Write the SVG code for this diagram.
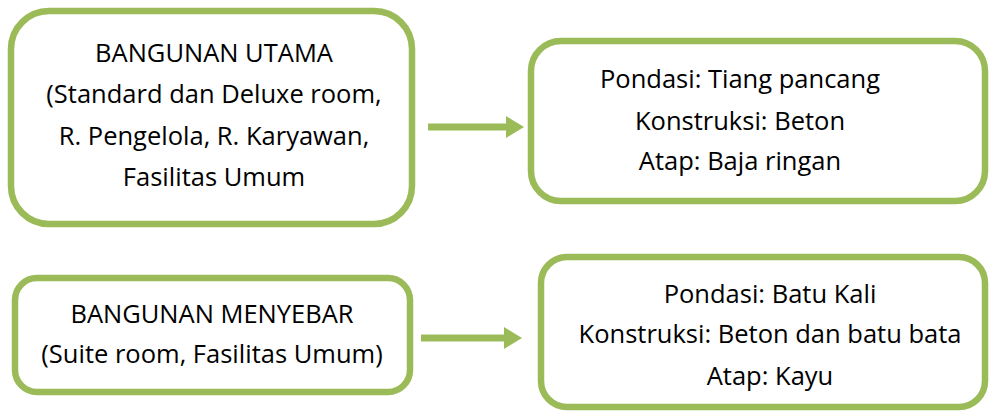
<svg xmlns="http://www.w3.org/2000/svg" width="991" height="412" viewBox="0 0 991 412">
<style>
.box{fill:#fff;stroke:#9BBB59;stroke-width:6.5}
.t{font-family:"Open Sans","Noto Sans",sans-serif;font-size:25.5px;fill:#000;text-anchor:middle}
.conn{stroke:#9BBB59;stroke-width:7;fill:none}
</style>
<defs>
<marker id="ah" markerUnits="userSpaceOnUse" markerWidth="18" markerHeight="22" refX="0" refY="11" orient="auto">
<path d="M0,0 L18,11 L0,22 z" fill="#9BBB59"/>
</marker>
</defs>
<rect width="991" height="412" fill="#fff"/>
<g id="n1">
<rect class="box" x="11" y="11" width="401" height="213" rx="38"/>
<text class="t" x="214" y="62">BANGUNAN UTAMA</text>
<text class="t" x="214" y="103">(Standard dan Deluxe room,</text>
<text class="t" x="214" y="145">R. Pengelola, R. Karyawan,</text>
<text class="t" x="214" y="186">Fasilitas Umum</text>
</g>
<g id="n2">
<rect class="box" x="531" y="41" width="454" height="160" rx="30"/>
<text class="t" x="740" y="88">Pondasi: Tiang pancang</text>
<text class="t" x="740" y="130">Konstruksi: Beton</text>
<text class="t" x="740" y="170">Atap: Baja ringan</text>
</g>
<g id="n3">
<rect class="box" x="15" y="278" width="395" height="114" rx="22"/>
<text class="t" x="212" y="323">BANGUNAN MENYEBAR</text>
<text class="t" x="212" y="363">(Suite room, Fasilitas Umum)</text>
</g>
<g id="n4">
<rect class="box" x="541" y="257" width="444" height="150" rx="26"/>
<text class="t" x="770" y="303">Pondasi: Batu Kali</text>
<text class="t" x="770" y="343">Konstruksi: Beton dan batu bata</text>
<text class="t" x="770" y="385">Atap: Kayu</text>
</g>
<g id="connectors">
<line class="conn" x1="428" y1="127" x2="506" y2="127" marker-end="url(#ah)"/>
<line class="conn" x1="421" y1="338" x2="504" y2="338" marker-end="url(#ah)"/>
</g>
</svg>
